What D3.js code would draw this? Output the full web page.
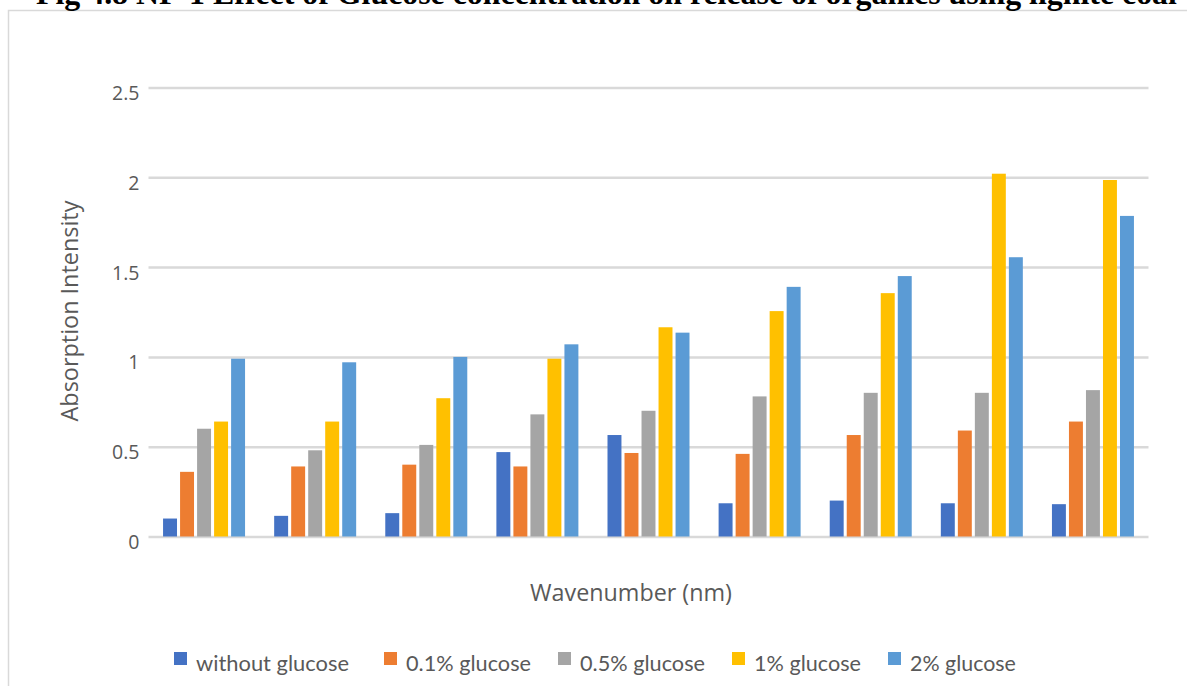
<!DOCTYPE html>
<html>
<head>
<meta charset="utf-8">
<script src="https://cdn.jsdelivr.net/npm/d3@7"></script>
<style>
  html, body { margin: 0; padding: 0; background: #fff; overflow: hidden; }
  svg { display: block; }
</style>
</head>
<body>
<svg id="chart" width="1187" height="686"></svg>
<script>
// Sample positions along the wavenumber axis (no tick labels are printed)
const categories = ["1", "2", "3", "4", "5", "6", "7", "8", "9"];

const seriesNames = ["without glucose", "0.1% glucose", "0.5% glucose", "1% glucose", "2% glucose"];
const seriesColors = ["#4472C4", "#ED7D31", "#A5A5A5", "#FFC000", "#5B9BD5"];

// Absorption intensity per series, one value per category
const withoutGlucose = [0.10, 0.115, 0.13, 0.47, 0.565, 0.185, 0.20, 0.185, 0.18];
const glucose01 = [0.36, 0.39, 0.40, 0.39, 0.465, 0.46, 0.565, 0.59, 0.64];
const glucose05 = [0.60, 0.48, 0.51, 0.68, 0.70, 0.78, 0.80, 0.80, 0.815];
const glucose1 = [0.64, 0.64, 0.77, 0.99, 1.165, 1.255, 1.355, 2.02, 1.985];
const glucose2 = [0.99, 0.97, 1.00, 1.07, 1.135, 1.39, 1.45, 1.555, 1.785];

const yTicks = [0, 0.5, 1, 1.5, 2, 2.5];

const titleText = "Fig 4.8 NF-1 Effect of Glucose concentration on release of organics using lignite coal";
const xTitle = "Wavenumber (nm)";
const yTitle = "Absorption Intensity";

const seriesValues = [withoutGlucose, glucose01, glucose05, glucose1, glucose2];

const svg = d3.select("#chart");
const textColor = "#595959";
const gridColor = "#d9d9d9";

// scale a text element's font-size so it spans a given width
function fitWidth(sel, target) {
  const node = sel.node();
  const fs = parseFloat(sel.attr("font-size"));
  const w = node.getComputedTextLength();
  if (w > 0) sel.attr("font-size", (fs * target / w).toFixed(2));
  return sel;
}

// outer chart frame
svg.append("rect")
  .attr("x", 8.5).attr("y", 10.5)
  .attr("width", 1200).attr("height", 700)
  .attr("fill", "none")
  .attr("stroke", gridColor)
  .attr("stroke-width", 1.5);

// figure caption, set above the frame
const title = svg.append("text")
  .attr("x", 36).attr("y", 4)
  .attr("font-family", "'Liberation Serif', 'Times New Roman', serif")
  .attr("font-weight", "bold")
  .attr("font-size", 24)
  .attr("fill", "#000")
  .text(titleText);
fitWidth(title, 1141);

const plot = { left: 148.5, right: 1148.5, top: 87.5, bottom: 536.5 };

const x0 = d3.scaleBand()
  .domain(categories)
  .range([plot.left, plot.right])
  .paddingInner(0.262)
  .paddingOuter(0.131);

const x1 = d3.scaleBand()
  .domain(d3.range(seriesNames.length))
  .range([0, x0.bandwidth()])
  .paddingInner(0.18);

const y = d3.scaleLinear()
  .domain([0, 2.5])
  .range([plot.bottom, plot.top]);

// horizontal gridlines with value labels
const yAxis = d3.axisLeft(y)
  .tickValues(yTicks)
  .tickSize(-(plot.right - plot.left))
  .tickFormat(d3.format("~g"))
  .tickPadding(9);

const gy = svg.append("g")
  .attr("transform", `translate(${plot.left},0)`)
  .call(yAxis);
gy.select(".domain").remove();
gy.selectAll(".tick line")
  .attr("stroke", gridColor)
  .attr("stroke-width", 2.5);
gy.selectAll(".tick text")
  .attr("fill", textColor)
  .attr("font-family", "'Open Sans', sans-serif")
  .attr("font-size", 19.5)
  .attr("dy", "0.62em");

// bars
const groups = svg.append("g")
  .selectAll("g")
  .data(categories)
  .join("g")
  .attr("transform", d => `translate(${x0(d)},0)`);

groups.selectAll("rect")
  .data((d, i) => seriesValues.map((vals, s) => ({ s, v: vals[i] })))
  .join("rect")
  .attr("x", d => x1(d.s))
  .attr("y", d => y(d.v))
  .attr("width", x1.bandwidth())
  .attr("height", d => y(0) - y(d.v))
  .attr("fill", d => seriesColors[d.s]);

// axis titles
const xt = svg.append("text")
  .attr("x", 631).attr("y", 601)
  .attr("text-anchor", "middle")
  .attr("font-family", "'Open Sans', sans-serif")
  .attr("font-size", 21)
  .attr("fill", textColor)
  .text(xTitle);
fitWidth(xt, 202);

const yt = svg.append("text")
  .attr("transform", "translate(78,311) rotate(-90)")
  .attr("text-anchor", "middle")
  .attr("font-family", "'Open Sans', sans-serif")
  .attr("font-size", 21)
  .attr("fill", textColor)
  .text(yTitle);
fitWidth(yt, 221);

// legend
const legendX = [174, 384, 558, 732, 888];
const legendTextW = [153, 125, 125, 107, 106];
const legend = svg.append("g");
seriesNames.forEach((name, i) => {
  legend.append("rect")
    .attr("x", legendX[i]).attr("y", 652)
    .attr("width", 13).attr("height", 13)
    .attr("fill", seriesColors[i]);
  const t = legend.append("text")
    .attr("x", legendX[i] + 22).attr("y", 671)
    .attr("font-family", "Lato, 'Open Sans', sans-serif")
    .attr("font-size", 20)
    .attr("fill", textColor)
    .text(name);
  fitWidth(t, legendTextW[i]);
});
</script>
</body>
</html>
